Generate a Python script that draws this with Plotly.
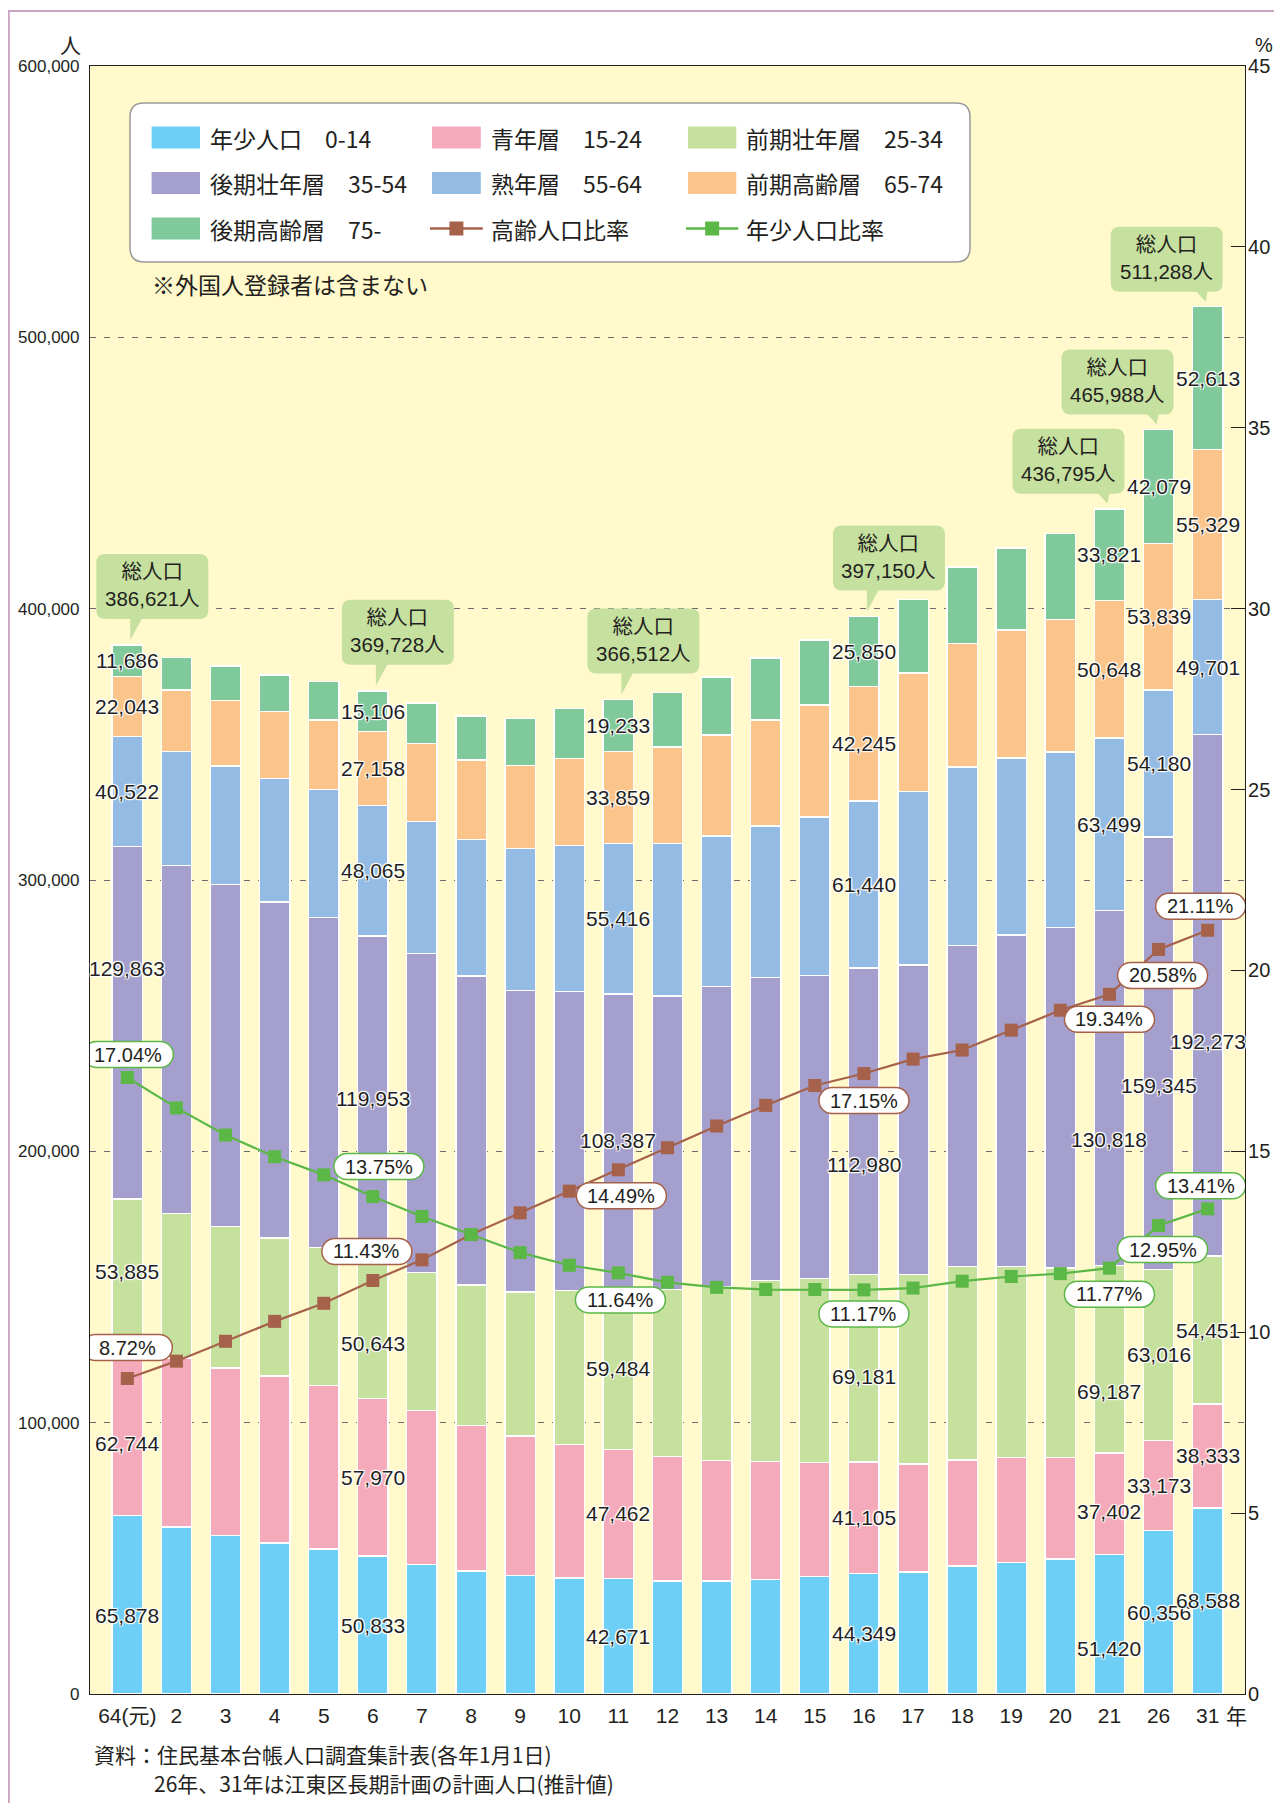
import plotly.graph_objects as go

# ---------------- data ----------------
years = ["64(元)", "2", "3", "4", "5", "6", "7", "8", "9", "10", "11", "12",
         "13", "14", "15", "16", "17", "18", "19", "20", "21", "26", "31"]

youth_0_14 = [65878, 61600, 58400, 55700, 53400, 50833, 47800, 45300, 43600, 42700, 42671, 41700,
              41700, 42300, 43200, 44349, 45000, 47200, 48500, 49700, 51420, 60356, 68588]
young_15_24 = [62744, 62200, 61700, 61500, 60200, 57970, 56600, 53600, 51500, 49300, 47462, 45900,
               44400, 43400, 42100, 41105, 39800, 39000, 38600, 37400, 37402, 33173, 38333]
early_prime_25_34 = [53885, 53200, 52300, 50900, 50900, 50643, 50900, 51800, 53000, 56800, 59484, 61500,
                     64000, 66600, 67900, 69181, 69800, 71400, 70500, 69900, 69187, 63016, 54451]
late_prime_35_54 = [129863, 128400, 125900, 123800, 121600, 119953, 117600, 113900, 111200, 110100, 108387, 108100,
                    110600, 111800, 111500, 112980, 114100, 118200, 122100, 125500, 130818, 159345, 192273]
mature_55_64 = [40522, 42000, 43700, 45400, 47200, 48065, 48700, 50300, 52400, 53800, 55416, 56300,
                55500, 55800, 58500, 61440, 63900, 65900, 65300, 64700, 63499, 54180, 49701]
early_elderly_65_74 = [22043, 22700, 24200, 24900, 25700, 27158, 28600, 29300, 30600, 32100, 33859, 35500,
                       37300, 39000, 41300, 42245, 43700, 45400, 47200, 48800, 50648, 53839, 55329]
late_elderly_75 = [11686, 12000, 12600, 13400, 14200, 15106, 15100, 16300, 17300, 18300, 19233, 20200,
                   21300, 22900, 24000, 25850, 27000, 28200, 30200, 31800, 33821, 42079, 52613]

elderly_ratio = [8.72, 9.20, 9.75, 10.30, 10.80, 11.43, 12.00, 12.70, 13.30, 13.90, 14.49, 15.10,
                 15.70, 16.27, 16.82, 17.15, 17.55, 17.80, 18.35, 18.90, 19.34, 20.58, 21.11]
youth_ratio = [17.04, 16.20, 15.45, 14.85, 14.35, 13.75, 13.20, 12.70, 12.20, 11.85, 11.64, 11.38,
               11.24, 11.18, 11.18, 11.17, 11.22, 11.41, 11.54, 11.62, 11.77, 12.95, 13.41]

labeled_years = ["64(元)", "6", "11", "16", "21", "26", "31"]
labeled_totals = [386621, 369728, 366512, 397150, 436795, 465988, 511288]

series_names = ["年少人口　0-14", "青年層　15-24", "前期壮年層　25-34", "後期壮年層　35-54",
                "熟年層　55-64", "前期高齢層　65-74", "後期高齢層　75-"]
line_names = ["高齢人口比率", "年少人口比率"]

# ---------------- styles ----------------
series_values = [youth_0_14, young_15_24, early_prime_25_34, late_prime_35_54,
                 mature_55_64, early_elderly_65_74, late_elderly_75]
series_colors = ["#6dcff6", "#f5aabb", "#c6e09e", "#a59fcd", "#93bbe3", "#fbc48a", "#80c99b"]
BROWN = "#a6614a"
GREEN = "#5bb846"
INK = "#231f20"
CALLOUT = "#c6e09f"
NUM_FONT = "Liberation Sans, Arial, Noto Sans CJK JP"
JP_FONT = "Noto Sans CJK JP, Noto Sans CJK SC, sans-serif"
HALO = "1px 1px 1px #fff, -1px -1px 1px #fff, 1px -1px 1px #fff, -1px 1px 1px #fff, 0 0 2px #fff"

W, H = 1266, 1795
L, R, T, B = 82, 29, 58, 109
PW, PH = W - L - R, H - T - B


def px(x):
    return (x - L) / PW


def py(y):
    return (H - B - y) / PH


# label nudges (value units) for segment labels that are not centred in the reference
label_nudge = {("64(元)", 3): 20000, ("64(元)", 0): -4000, ("64(元)", 1): -5000,
               ("6", 2): -5000, ("16", 3): -16000, ("16", 2): -3000,
               ("21", 3): -19000, ("21", 2): -12000, ("21", 1): -3000, ("21", 0): -9000,
               ("26", 3): -12000, ("31", 3): -17000}
# pill offsets (px) relative to marker, per labeled year
elderly_pill = {"64(元)": (0, 31), "6": (-6, 29), "11": (3, -26), "16": (0, -27),
                "21": (0, -25), "26": (4, -26), "31": (-7, 24)}
youth_pill = {"64(元)": (1, 23), "6": (6, 30), "11": (2, -27), "16": (0, -24),
              "21": (0, -26), "26": (4, -24), "31": (-7, 23)}
left_callouts = {"64(元)", "6", "11", "16"}

fig = go.Figure()
for name, vals, col in zip(series_names, series_values, series_colors):
    fig.add_trace(go.Bar(x=years, y=vals, name=name, showlegend=False,
                         marker=dict(color=col, line=dict(color="white", width=1.4)),
                         hoverinfo="skip"))

fig.add_trace(go.Scatter(x=years, y=elderly_ratio, yaxis="y2", name=line_names[0], showlegend=False,
                         mode="lines+markers", line=dict(color=BROWN, width=2.2),
                         marker=dict(symbol="square", size=13, color=BROWN), hoverinfo="skip"))
fig.add_trace(go.Scatter(x=years, y=youth_ratio, yaxis="y2", name=line_names[1], showlegend=False,
                         mode="lines+markers", line=dict(color=GREEN, width=2.2),
                         marker=dict(symbol="square", size=13, color=GREEN), hoverinfo="skip"))

shapes = []
annotations = []


def fmt(v):
    return str(round(v, 2))


def rrect_path(x0, y0, x1, y1, r):
    # pixel-relative rounded rectangle, y0 = bottom, y1 = top (y up)
    pts = [("M", [(x0 + r, y1)]), ("L", [(x1 - r, y1)]), ("Q", [(x1, y1), (x1, y1 - r)]),
           ("L", [(x1, y0 + r)]), ("Q", [(x1, y0), (x1 - r, y0)]), ("L", [(x0 + r, y0)]),
           ("Q", [(x0, y0), (x0, y0 + r)]), ("L", [(x0, y1 - r)]), ("Q", [(x0, y1), (x0 + r, y1)])]
    s = ""
    for c, ps in pts:
        s += c + " ".join(f"{fmt(a)},{fmt(b)}" for a, b in ps) + " "
    return s + "Z"


def stadium_path(cx, cy, w, h):
    r = h / 2
    k = 0.5523 * r
    a = cx - w / 2 + r
    b = cx + w / 2 - r
    return (f"M{fmt(a)},{fmt(cy + r)} L{fmt(b)},{fmt(cy + r)} "
            f"C{fmt(b + k)},{fmt(cy + r)} {fmt(b + r)},{fmt(cy + k)} {fmt(b + r)},{fmt(cy)} "
            f"C{fmt(b + r)},{fmt(cy - k)} {fmt(b + k)},{fmt(cy - r)} {fmt(b)},{fmt(cy - r)} "
            f"L{fmt(a)},{fmt(cy - r)} "
            f"C{fmt(a - k)},{fmt(cy - r)} {fmt(a - r)},{fmt(cy - k)} {fmt(a - r)},{fmt(cy)} "
            f"C{fmt(a - r)},{fmt(cy + k)} {fmt(a - k)},{fmt(cy + r)} {fmt(a)},{fmt(cy + r)} Z")


# ---- segment value labels ----
for yr in labeled_years:
    i = years.index(yr)
    base = 0
    for s, vals in enumerate(series_values):
        v = vals[i]
        yc = base + v / 2 + label_nudge.get((yr, s), 0)
        base += v
        annotations.append(dict(x=i, y=yc, xref="x", yref="y", text=f"{v:,}", showarrow=False,
                                font=dict(family=NUM_FONT, size=21, color=INK, shadow=HALO)))

# ---- total population callouts ----
for yr, tot in zip(labeled_years, labeled_totals):
    i = years.index(yr)
    if yr in left_callouts:
        bx0, bx1, by0, by1 = -31, 81, 26, 91
        tri = "M3,27 L15,27 L3,5 Z"
    else:
        bx0, bx1, by0, by1 = -97, 15, 15, 80
        tri = "M-12,16 L0,16 L-2,5 Z"
    common = dict(type="path", xref="x", yref="y", xsizemode="pixel", ysizemode="pixel",
                  xanchor=i, yanchor=tot, fillcolor=CALLOUT, line=dict(width=0), layer="above")
    shapes.append(dict(path=rrect_path(bx0, by0, bx1, by1, 9), **common))
    shapes.append(dict(path=tri, **common))
    annotations.append(dict(x=i, y=tot, xref="x", yref="y", xshift=(bx0 + bx1) / 2,
                            yshift=(by0 + by1) / 2 + 1, text=f"総人口<br>{tot:,}人",
                            showarrow=False, align="center",
                            font=dict(family=NUM_FONT, size=20.5, color=INK)))

# ---- ratio pills ----
for ratio, offs, col in ((elderly_ratio, elderly_pill, BROWN), (youth_ratio, youth_pill, GREEN)):
    for yr in labeled_years:
        i = years.index(yr)
        dx, dy = offs[yr]
        shapes.append(dict(type="path", xref="x", yref="y2", xsizemode="pixel", ysizemode="pixel",
                           xanchor=i, yanchor=ratio[i], path=stadium_path(dx, dy, 90, 26),
                           fillcolor="white", line=dict(color=col, width=1.5), layer="above"))
        annotations.append(dict(x=i, y=ratio[i], xref="x", yref="y2", xshift=dx, yshift=dy,
                                text=f"{ratio[i]:.2f}%", showarrow=False,
                                font=dict(family=NUM_FONT, size=20, color=INK)))

# ---- legend (drawn manually to match the boxed 3x3 layout) ----
lx0, ly0, lx1, ly1, rr = 122, 95, 962, 254, 14
pts = [("M", [(lx0 + rr, ly0)]), ("L", [(lx1 - rr, ly0)]), ("Q", [(lx1, ly0), (lx1, ly0 + rr)]),
       ("L", [(lx1, ly1 - rr)]), ("Q", [(lx1, ly1), (lx1 - rr, ly1)]), ("L", [(lx0 + rr, ly1)]),
       ("Q", [(lx0, ly1), (lx0, ly1 - rr)]), ("L", [(lx0, ly0 + rr)]), ("Q", [(lx0, ly0), (lx0 + rr, ly0)])]
legend_path = ""
for c, ps in pts:
    legend_path += c + " ".join(f"{px(a):.5f},{py(b):.5f}" for a, b in ps) + " "
legend_path += "Z"
shapes.append(dict(type="path", xref="paper", yref="paper", path=legend_path,
                   fillcolor="white", line=dict(color="#9a9a9a", width=1.5), layer="above"))

rows_y = [129.5, 175.0, 220.5]
sw_x = [(143.6, 192.0), (424.0, 472.8), (680.0, 728.3)]
txt_x = [200.0, 480.8, 736.3]
legend_items = [(n, "bar", c) for n, c in zip(series_names, series_colors)] + \
               [(line_names[0], "line", BROWN), (line_names[1], "line", GREEN)]
for k, (name, kind, col) in enumerate(legend_items):
    r_, c_ = divmod(k, 3)
    yy = rows_y[r_]
    x0, x1 = sw_x[c_]
    if kind == "bar":
        shapes.append(dict(type="rect", xref="paper", yref="paper", x0=px(x0), x1=px(x1),
                           y0=py(yy + 11), y1=py(yy - 11), fillcolor=col, line=dict(width=0),
                           layer="above"))
    else:
        shapes.append(dict(type="line", xref="paper", yref="paper", x0=px(x0 - 2), x1=px(x1 + 2),
                           y0=py(yy), y1=py(yy), line=dict(color=col, width=2.6), layer="above"))
        xm = (x0 + x1) / 2
        shapes.append(dict(type="rect", xref="paper", yref="paper", x0=px(xm - 7), x1=px(xm + 7),
                           y0=py(yy + 7), y1=py(yy - 7), fillcolor=col, line=dict(width=0),
                           layer="above"))
    annotations.append(dict(x=px(txt_x[c_]), y=py(yy), xref="paper", yref="paper", text=name,
                            xanchor="left", yanchor="middle", showarrow=False,
                            font=dict(family=JP_FONT, size=23, color=INK)))

# ---- other texts ----
annotations += [
    dict(x=px(141.6), y=py(276), xref="paper", yref="paper", text="※外国人登録者は含まない",
         xanchor="left", yanchor="middle", showarrow=False, font=dict(family=JP_FONT, size=23, color=INK)),
    dict(x=px(62.7), y=py(36), xref="paper", yref="paper", text="人", xanchor="center",
         yanchor="middle", showarrow=False, font=dict(family=JP_FONT, size=21, color=INK)),
    dict(x=px(1256), y=py(37), xref="paper", yref="paper", text="%", xanchor="center",
         yanchor="middle", showarrow=False, font=dict(family=NUM_FONT, size=20, color=INK)),
    dict(x=px(1228), y=py(1706.5), xref="paper", yref="paper", text="年", xanchor="center",
         yanchor="middle", showarrow=False, font=dict(family=JP_FONT, size=21, color=INK)),
    dict(x=px(83.5), y=py(1745.5), xref="paper", yref="paper",
         text="資料：住民基本台帳人口調査集計表(各年1月1日)", xanchor="left", yanchor="middle",
         showarrow=False, font=dict(family=JP_FONT, size=21, color=INK)),
    dict(x=px(143.8), y=py(1775), xref="paper", yref="paper",
         text="26年、31年は江東区長期計画の計画人口(推計値)", xanchor="left", yanchor="middle",
         showarrow=False, font=dict(family=JP_FONT, size=21, color=INK)),
]

# ---- page frame (mauve) ----
shapes += [
    dict(type="line", xref="paper", yref="paper", x0=px(0), x1=px(W), y0=py(3), y1=py(3),
         line=dict(color="#c9a3bf", width=2), layer="above"),
    dict(type="line", xref="paper", yref="paper", x0=px(0.8), x1=px(0.8), y0=py(2), y1=py(H),
         line=dict(color="#c9a3bf", width=2), layer="above"),
]

fig.update_layout(
    width=W, height=H,
    margin=dict(l=L, r=R, t=T, b=B, autoexpand=False),
    paper_bgcolor="white", plot_bgcolor="#fff9cc",
    barmode="stack", bargap=0.38,
    font=dict(family=NUM_FONT, color=INK),
    xaxis=dict(type="category", categoryorder="array", categoryarray=years, range=[-0.76, 22.76],
               showline=True, mirror=True, linecolor=INK, linewidth=1.2, ticks="", showgrid=False,
               zeroline=False, automargin=False, ticklabelstandoff=3,
               tickfont=dict(family=NUM_FONT, size=21, color=INK)),
    yaxis=dict(range=[0, 600000], dtick=100000, tickformat=",d", showline=True, mirror=True,
               linecolor=INK, linewidth=1.2, showgrid=True, gridcolor="#6b6b6b", gridwidth=1,
               griddash="6px,8px", zeroline=False, ticks="", automargin=False, ticklabelstandoff=6,
               tickfont=dict(family=NUM_FONT, size=17, color=INK)),
    yaxis2=dict(overlaying="y", side="right", range=[0, 45], dtick=5, showgrid=False, zeroline=False,
                ticks="inside", ticklen=14, tickwidth=1.2, tickcolor=INK, showline=True,
                linecolor=INK, linewidth=1.2, automargin=False, ticklabelstandoff=-2,
                tickfont=dict(family=NUM_FONT, size=20, color=INK)),
    shapes=shapes,
    annotations=annotations,
    showlegend=False,
)

fig.write_html("out.html", config={"displayModeBar": False})
